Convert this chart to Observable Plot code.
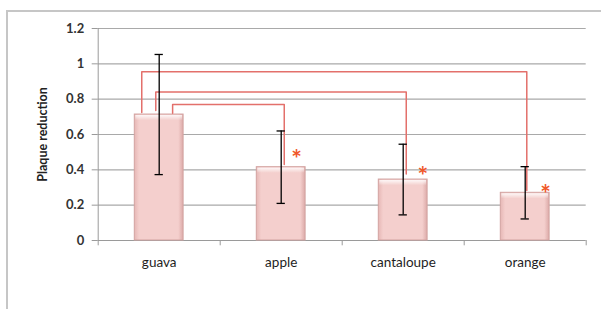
<!DOCTYPE html>
<html><head><meta charset="utf-8">
<script src="https://cdn.jsdelivr.net/npm/d3@7"></script>
<script src="https://cdn.jsdelivr.net/npm/@observablehq/plot@0.6"></script>
<style>
html,body{margin:0;padding:0;background:#fff;overflow:hidden}
#wrap{position:relative;width:601px;height:309px;overflow:hidden}
#frame{position:absolute;left:6px;top:10px;width:640px;height:340px;border-top:2px solid #c6c6c6;border-left:2px solid #c6c6c6;box-sizing:border-box}
#chart{position:absolute;left:0;top:0}
</style></head><body>
<div id="wrap"><div id="frame"></div><div id="chart"></div></div>
<script>
const categories = ["guava", "apple", "cantaloupe", "orange"];
const means = [0.713, 0.415, 0.345, 0.27];
const errors = [0.34, 0.205, 0.2, 0.148];
const yTicks = [0, 0.2, 0.4, 0.6, 0.8, 1, 1.2];
const yLabel = "Plaque reduction";

// significance brackets from guava to each other fruit
const bracketTargets = ["apple", "cantaloupe", "orange"];
const bracketLevels = [0.77, 0.84, 0.955];
const bracketStartOffsets = [0.11, -0.028, -0.143];
const bracketEndOffsets = [0.025, 0.025, 0.013];
const bracketStartBottoms = [0.72, 0.736, 0.724];
const bracketEndBottoms = [0.43, 0.377, 0.283];

// asterisks
const starCategories = ["apple", "cantaloupe", "orange"];
const starOffsets = [0.125, 0.16, 0.166];
const starLevels = [0.49, 0.392, 0.289];

const bars = categories.map((c, i) => ({i, fruit: c, mean: means[i], err: errors[i]}));
const boundaries = d3.range(categories.length + 1).map(k => k - 0.5);
const bracketPts = [];
bracketTargets.forEach((t, k) => {
  const ti = categories.indexOf(t);
  const sx = 0 + bracketStartOffsets[k], ex = ti + bracketEndOffsets[k];
  bracketPts.push({b: k, x: sx, y: bracketStartBottoms[k]});
  bracketPts.push({b: k, x: sx, y: bracketLevels[k]});
  bracketPts.push({b: k, x: ex, y: bracketLevels[k]});
  bracketPts.push({b: k, x: ex, y: bracketEndBottoms[k]});
});
const stars = starCategories.map((c, k) => ({x: categories.indexOf(c) + starOffsets[k], y: starLevels[k]}));

const chart = Plot.plot({
  width: 601, height: 309,
  marginLeft: 97.7, marginRight: 15.3, marginTop: 28, marginBottom: 69,
  x: {type: "linear", domain: [-0.5, categories.length - 0.5]},
  y: {domain: [0, 1.2]},
  style: {fontFamily: "Lato, 'Open Sans', sans-serif", background: "transparent", overflow: "visible"},
  marks: [
    Plot.ruleY(yTicks.filter(d => d > 0), {x1: -0.5, x2: categories.length - 0.5, stroke: "#a9a9a9", strokeWidth: 1.2}),
    Plot.ruleX(boundaries, {y1: -0.03, y2: 0, stroke: "#9a9a9a"}),
    Plot.ruleX([-0.5], {y1: 0, y2: 1.2, stroke: "#9a9a9a"}),
    Plot.ruleY([0], {x1: -0.5, x2: categories.length - 0.5, stroke: "#9a9a9a"}),
    Plot.rectY(bars, {x1: d => d.i - 0.2, x2: d => d.i + 0.2, y1: 0, y2: "mean", fill: "url(#barGrad)", stroke: "#d2a3a1", ariaLabel: "bars"}),
    Plot.rectY(bars, {x1: d => d.i - 0.2, x2: d => d.i + 0.2, y1: d => d.mean - 0.035, y2: "mean", fill: "url(#bevelGrad)", insetLeft: 1, insetRight: 1, insetTop: 1}),
    Plot.line(bracketPts, {x: "x", y: "y", z: "b", stroke: "#e3706b", strokeWidth: 1.5}),
    Plot.ruleX(bars, {x: "i", y1: d => d.mean - d.err, y2: d => d.mean + d.err, stroke: "#000", strokeWidth: 1.3}),
    Plot.ruleY(bars, {y: d => d.mean + d.err, x1: d => d.i - 0.034, x2: d => d.i + 0.034, stroke: "#000", strokeWidth: 1.3}),
    Plot.ruleY(bars, {y: d => d.mean - d.err, x1: d => d.i - 0.034, x2: d => d.i + 0.034, stroke: "#000", strokeWidth: 1.3}),
    Plot.text(stars, {x: "x", y: "y", text: () => "*", fill: "#f0582a", fontSize: 25, fontWeight: "bold", dy: 6}),
    Plot.axisY({ticks: yTicks, tickFormat: d => String(d), tickSize: 6, tickPadding: 8, fontSize: 13, fontWeight: "bold", fill: "#333", stroke: "#9a9a9a", label: null}),
    Plot.axisX({ticks: d3.range(categories.length), tickFormat: i => categories[i], tickSize: 0, tickPadding: 17, fontSize: 13.5, fill: "#1e1e1e", label: null}),
    Plot.text([yLabel], {frameAnchor: "left", textAnchor: "middle", dx: -55, rotate: -90, fontSize: 12.5, fontWeight: "bold", fill: "#222"})
  ]
});

const svg = d3.select(chart);
const defs = svg.insert("defs", ":first-child");
const grad = defs.append("linearGradient").attr("id", "barGrad").attr("x1", 0).attr("x2", 1).attr("y1", 0).attr("y2", 0);
[[0, "#e6b7b5"], [0.1, "#f4cfcd"], [0.9, "#f4cfcd"], [1, "#dcaaa8"]].forEach(([o, c]) => grad.append("stop").attr("offset", o).attr("stop-color", c));
const bevel = defs.append("linearGradient").attr("id", "bevelGrad").attr("x1", 0).attr("x2", 0).attr("y1", 0).attr("y2", 1);
[[0, "rgba(255,255,255,0.85)"], [1, "rgba(255,255,255,0)"]].forEach(([o, c]) => bevel.append("stop").attr("offset", o).attr("stop-color", c));
svg.selectAll('g[aria-label="bars"] rect').style("filter", "drop-shadow(2px 2px 1.5px rgba(0,0,0,0.35))");
document.getElementById("chart").appendChild(chart);
</script>
</body></html>
